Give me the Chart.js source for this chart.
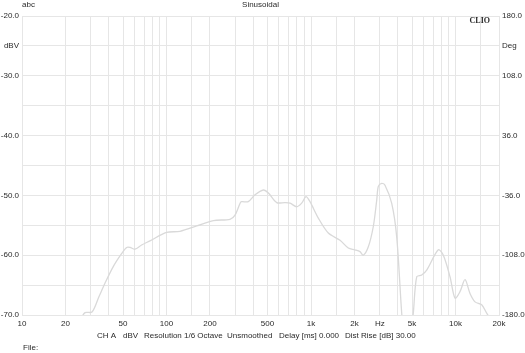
<!DOCTYPE html>
<html>
<head>
<meta charset="utf-8">
<script src="https://cdn.jsdelivr.net/npm/chart.js@4/dist/chart.umd.min.js"></script>
<style>
html,body{margin:0;padding:0;background:#fff;}
canvas{display:block;}
</style>
</head>
<body>
<canvas id="c" width="525" height="353"></canvas>
<script>
// Frequency (Hz) of the traced response points
const frequencies = [25, 27.3, 30.5, 34, 37.5, 42.8, 49, 53, 55.9, 60.5, 67.3, 76.9, 100, 124, 162, 211, 275, 298, 323, 331, 368, 410, 468, 507, 579, 661, 716, 796, 862, 923, 984, 1124, 1318, 1588, 1812, 2015, 2183, 2301, 2493, 2699, 2850, 2924, 3084, 3251, 3616, 3917, 4244, 4616, 5105, 5393, 5837, 6322, 7605, 8238, 9163, 9925, 10740, 11640, 12600, 13650, 15180, 16440, 17800];
// Level (dBV) at each frequency
const levelsDBV = [-71, -69.6, -69.5, -67, -64.7, -61.9, -59.7, -58.7, -58.7, -59.0, -58.3, -57.6, -56.2, -56.0, -55.1, -54.2, -54.0, -53.3, -51.3, -51.05, -51.05, -49.9, -49.1, -49.6, -51.2, -51.2, -51.3, -51.9, -51.3, -50.2, -51.05, -53.8, -56.3, -57.5, -58.8, -59.1, -59.4, -60.0, -58.6, -55.2, -50.8, -48.5, -48.0, -48.3, -51.3, -56.9, -69.7, -80, -69.7, -63.6, -63.3, -62.5, -59.1, -60.0, -63.6, -67.2, -66.1, -64.1, -66.4, -67.8, -68.3, -69.7, -71];
// X tick labels
const xTickLabels = {10:'10',20:'20',50:'50',100:'100',200:'200',500:'500',1000:'1k',2000:'2k',3000:'Hz',5000:'5k',10000:'10k',20000:'20k'};
// Left axis range / labels
const leftMin = -70, leftMax = -20, leftStep = 5;
const leftUnit = 'dBV';
// Right axis range / labels
const rightMin = -180, rightMax = 180, rightStep = 36;
const rightUnit = 'Deg';
// Annotation texts
const titleText = 'Sinusoidal';
const cornerText = 'abc';
const brandText = 'CLIO';
const fileText = 'File:';
const infoTexts = ['CH A', 'dBV', 'Resolution 1/6 Octave', 'Unsmoothed', 'Delay [ms] 0.000', 'Dist Rise [dB] 30.00'];
const infoX = [97, 123, 144, 227, 279, 345];

const points = frequencies.map((f, i) => ({x: f, y: levelsDBV[i]}));
const gridColor = '#e6e6e6';
const textColor = '#2a2a2a';
const FONT = 'Liberation Sans, Arial, sans-serif';

const textPlugin = {
  id: 'texts',
  afterDraw(chart) {
    const ctx = chart.ctx;
    const a = chart.chartArea;
    ctx.save();
    ctx.fillStyle = textColor;
    ctx.font = '8px ' + FONT;
    ctx.textBaseline = 'middle';
    ctx.textAlign = 'center';
    ctx.fillText(titleText, (a.left + a.right) / 2, 5);
    ctx.textAlign = 'left';
    ctx.fillText(cornerText, a.left, 5);
    ctx.fillText(fileText, 23, 348);
    infoTexts.forEach((t, i) => ctx.fillText(t, infoX[i], 336));
    ctx.font = 'bold 8px Liberation Serif, Times New Roman, serif';
    ctx.textAlign = 'right';
    ctx.fillText(brandText, a.right - 9, 21);
    ctx.restore();
  }
};

new Chart(document.getElementById('c'), {
  type: 'line',
  data: {
    datasets: [{
      data: points,
      borderColor: '#d9d9d9',
      borderWidth: 1.3,
      pointRadius: 0,
      tension: 0.3,
      fill: false
    }]
  },
  options: {
    responsive: false,
    animation: false,
    layout: {padding: {top: 16, left: 0, right: 0, bottom: 0}},
    plugins: {legend: {display: false}, tooltip: {enabled: false}},
    scales: {
      x: {
        type: 'logarithmic',
        min: 10, max: 20000,
        afterFit(s) { s.height = 38; },
        grid: {color: gridColor, drawTicks: false, lineWidth: 1},
        border: {color: gridColor},
        ticks: {
          autoSkip: false, maxRotation: 0, minRotation: 0, padding: 4,
          color: textColor, font: {size: 8, family: FONT},
          callback: (v) => xTickLabels[Math.round(v)] || ''
        }
      },
      y: {
        position: 'left',
        min: leftMin, max: leftMax,
        afterFit(s) { s.width = 22; },
        grid: {color: gridColor, drawTicks: false},
        border: {color: gridColor},
        ticks: {
          stepSize: leftStep, padding: 3, color: textColor, font: {size: 8, family: FONT},
          callback: (v) => v % 10 === 0 ? v.toFixed(1) : (v === -25 ? leftUnit : '')
        }
      },
      y2: {
        position: 'right',
        min: rightMin, max: rightMax,
        afterFit(s) { s.width = 26; },
        grid: {display: false, drawTicks: false},
        border: {color: gridColor},
        ticks: {
          stepSize: rightStep, padding: 3, color: textColor, font: {size: 8, family: FONT},
          callback: (v) => {
            const r = Math.round(v);
            if (r === 144) return rightUnit;
            if ((r - rightMin) % 72 === 0) return r.toFixed(1);
            return '';
          }
        }
      }
    }
  },
  plugins: [textPlugin]
});
</script>
</body>
</html>
